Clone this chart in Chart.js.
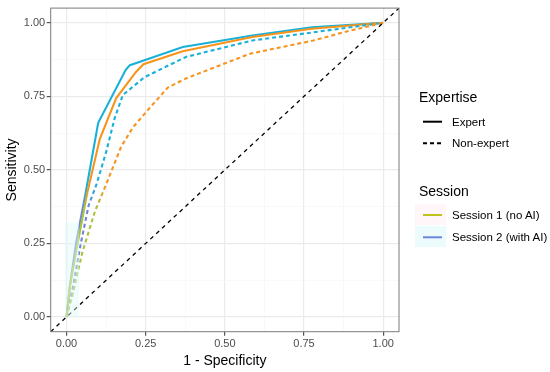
<!DOCTYPE html>
<html><head><meta charset="utf-8">
<script src="https://cdn.jsdelivr.net/npm/chart.js@4/dist/chart.umd.min.js"></script>
<style>
body{margin:0;background:#fff;font-family:"Liberation Sans",Arial,sans-serif;}
#wrap{position:relative;width:550px;height:372px;}
.lg{position:absolute;white-space:nowrap;color:#000;}
.tt{font-size:14px;line-height:16px;}
.it{font-size:11.5px;line-height:14px;}
</style></head><body>
<div id="wrap">
<canvas id="c" width="550" height="372"></canvas>
<div class="lg tt" style="left:419px;top:89px;">Expertise</div>
<svg class="lg" style="left:415px;top:110px;" width="32" height="44">
 <line x1="8" y1="11.7" x2="27" y2="11.7" stroke="#000" stroke-width="2"/>
 <line x1="8" y1="33.3" x2="27" y2="33.3" stroke="#000" stroke-width="2" stroke-dasharray="4 3"/>
</svg>
<div class="lg it" style="left:452px;top:114.7px;">Expert</div>
<div class="lg it" style="left:452px;top:136.3px;">Non-expert</div>
<div class="lg tt" style="left:419px;top:182.7px;">Session</div>
<svg class="lg" style="left:415px;top:204px;" width="32" height="44">
 <rect x="0" y="0" width="31" height="21" fill="#fef6f9"/>
 <rect x="0" y="22" width="31" height="21" fill="#ecfcfc"/>
 <line x1="8" y1="11" x2="27" y2="11" stroke="#BDC21F" stroke-width="2"/>
 <line x1="8" y1="33.3" x2="27" y2="33.3" stroke="#6E84DE" stroke-width="2"/>
</svg>
<div class="lg it" style="left:452px;top:208px;">Session 1 (no AI)</div>
<div class="lg it" style="left:452px;top:230.3px;">Session 2 (with AI)</div>
</div>
<script>
// ---- data ----
const expertS2X = [0,0.01,0.03,0.06,0.1,0.187,0.2,0.246,0.367,0.587,0.775,1];
const expertS2Y = [0,0.1,0.25,0.42,0.66,0.84,0.856,0.873,0.918,0.957,0.985,1];
const expertS1X = [0,0.01,0.035,0.065,0.105,0.157,0.22,0.243,0.367,0.587,0.775,1];
const expertS1Y = [0,0.1,0.25,0.42,0.605,0.744,0.834,0.859,0.903,0.952,0.98,1];
const nonExpS2X = [0,0.02,0.045,0.07,0.095,0.126,0.152,0.178,0.21,0.246,0.377,0.587,0.775,1];
const nonExpS2Y = [0,0.1,0.25,0.38,0.452,0.564,0.676,0.755,0.783,0.815,0.884,0.94,0.967,1];
const nonExpS1X = [0,0.02,0.05,0.09,0.121,0.173,0.21,0.262,0.32,0.377,0.58,0.78,0.89,1];
const nonExpS1Y = [0,0.08,0.22,0.36,0.44,0.58,0.645,0.71,0.78,0.811,0.895,0.94,0.972,1];
const ribbonX = [-0.005,0.04];
const ribbonY = [0.32,0.32];
const axisLimits = [-0.05,1.05];
const tickValues = [0,0.125,0.25,0.375,0.5,0.625,0.75,0.875,1];
const tickLabels = ["0.00","","0.25","","0.50","","0.75","","1.00"];

const toPts = (xs,ys)=>xs.map((x,i)=>({x:x,y:ys[i]}));

const ORANGE='#F7941E', CYAN='#19B1D8', GREEN='#A9C43C', BLUE='#6E84DE';
function grad(low,high){
  return function(ctx){
    const ch=ctx.chart; if(!ch.chartArea) return high;
    const ys=ch.scales.y;
    const g=ch.ctx.createLinearGradient(0,ys.getPixelForValue(0.36),0,ys.getPixelForValue(0.46));
    g.addColorStop(0,low); g.addColorStop(1,high);
    return g;
  };
}

const borderPlugin={id:'border',afterDatasetsDraw(ch){
  const a=ch.chartArea,c=ch.ctx;c.save();c.strokeStyle='#7a7a7a';c.lineWidth=1;
  c.strokeRect(a.left,a.top,a.right-a.left,a.bottom-a.top);c.restore();}};

function setTicks(scale){ scale.ticks = tickValues.map(v=>({value:v})); }
const isMajor=(c)=> c.tick && tickLabels[tickValues.indexOf(c.tick.value)]!=='';
const gridOpts={
  color:(c)=> isMajor(c) ? '#EBEBEB' : '#F5F5F5',
  lineWidth:(c)=> isMajor(c) ? 1.2 : 0.6,
  tickColor:(c)=> isMajor(c) ? '#555' : 'rgba(0,0,0,0)',
  tickLength:4, drawTicks:true
};

new Chart(document.getElementById('c'),{
  type:'scatter',
  data:{datasets:[
    {data:toPts(ribbonX,ribbonY),showLine:true,borderWidth:0,pointRadius:0,fill:{value:0},backgroundColor:'rgba(225,251,251,0.45)',borderColor:'rgba(0,0,0,0)'},
    {data:toPts(axisLimits,axisLimits),showLine:true,borderColor:'#000',borderWidth:1.3,borderDash:[4,4],pointRadius:0},
    {data:toPts(nonExpS1X,nonExpS1Y),showLine:true,borderColor:grad(GREEN,ORANGE),borderWidth:2.1,borderDash:[4,3],pointRadius:0},
    {data:toPts(nonExpS2X,nonExpS2Y),showLine:true,borderColor:grad(BLUE,CYAN),borderWidth:2.1,borderDash:[4,3],pointRadius:0},
    {data:toPts(expertS1X,expertS1Y),showLine:true,borderColor:grad(GREEN,ORANGE),borderWidth:2.1,pointRadius:0},
    {data:toPts(expertS2X,expertS2Y),showLine:true,borderColor:grad(BLUE,CYAN),borderWidth:2.1,pointRadius:0}
  ]},
  options:{
    responsive:false,animation:false,
    layout:{padding:{left:0,right:151,top:5.7,bottom:0}},
    plugins:{legend:{display:false},tooltip:{enabled:false}},
    scales:{
      x:{type:'linear',min:axisLimits[0],max:axisLimits[1],
        afterBuildTicks:setTicks,
        afterFit:(s)=>{s.height=40.3;},
        grid:gridOpts,border:{display:false},
        ticks:{padding:1.5,color:'#4D4D4D',font:{family:'Liberation Sans',size:11},maxRotation:0,autoSkip:false,
          callback:(v,i)=>tickLabels[i]},
        title:{display:true,text:'1 - Specificity',color:'#000',font:{family:'Liberation Sans',size:14},padding:{top:0,bottom:2.8}}
      },
      y:{type:'linear',min:axisLimits[0],max:axisLimits[1],
        afterBuildTicks:setTicks,
        afterFit:(s)=>{s.width=50.7;},
        grid:gridOpts,border:{display:false},
        ticks:{padding:1.5,color:'#4D4D4D',font:{family:'Liberation Sans',size:11},autoSkip:false,
          callback:(v,i)=>tickLabels[i]},
        title:{display:true,text:'Sensitivity',color:'#000',font:{family:'Liberation Sans',size:14},padding:{top:3.6,bottom:0}}
      }
    }
  },
  plugins:[borderPlugin]
});
</script>
</body></html>
